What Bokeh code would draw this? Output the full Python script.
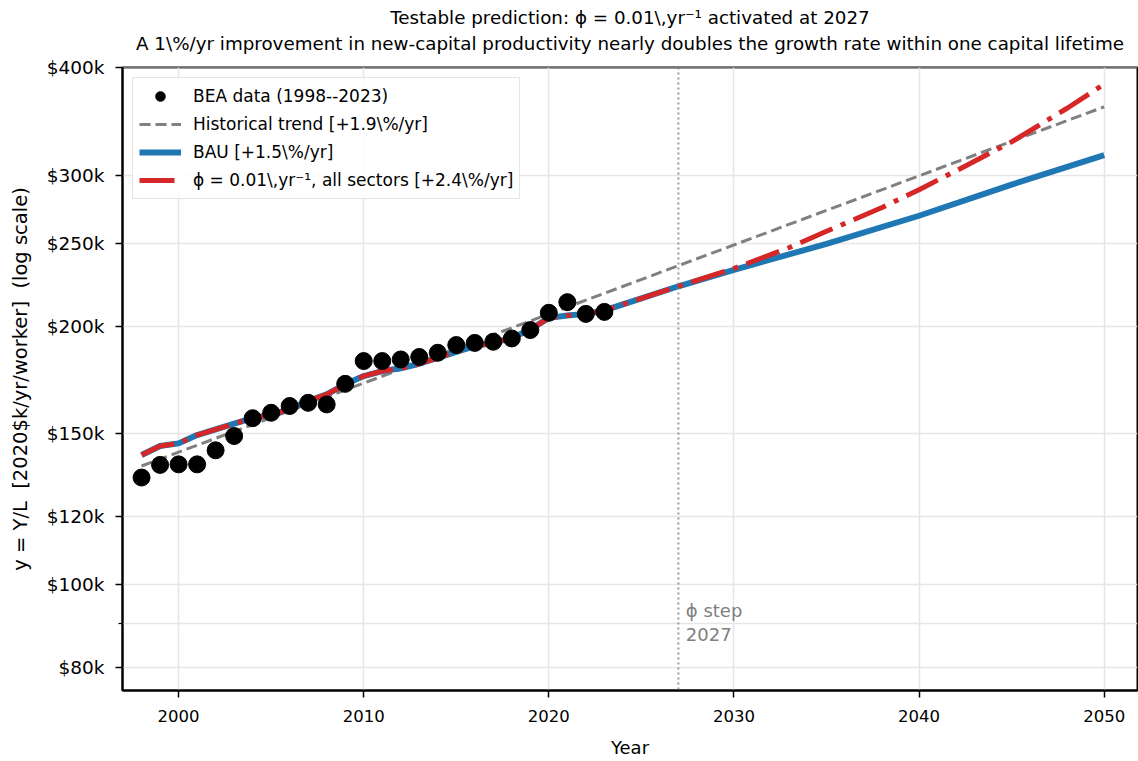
from bokeh.plotting import figure
from bokeh.models import (Range1d, FixedTicker, CustomJSTickFormatter, Legend, LegendItem,
                          Span, Label, Title)
from bokeh.embed import file_html
from bokeh.resources import INLINE

# ---------------- data (values in $k per worker, 2020 dollars) ----------------
bea_years = list(range(1998, 2024))
bea_vals = [133.2, 137.8, 138.0, 138.0, 143.3, 148.9, 156.2, 158.5, 161.4, 162.8,
            162.1, 171.3, 182.1, 182.1, 182.9, 184.1, 186.2, 190.1, 191.2, 191.8,
            193.5, 197.9, 207.3, 213.3, 206.7, 207.8]

trend_years = [1998, 2050]
trend_vals = [137.4, 360.4]

bau_years = list(range(1998, 2024)) + [2025, 2027, 2030, 2035, 2040, 2045, 2050]
bau_vals = [141.5, 145.0, 146.0, 149.3, 151.6, 153.9, 156.2, 157.8, 160.0, 163.6,
            166.5, 171.1, 174.9, 177.3, 178.6, 180.8, 183.7, 186.7, 189.6, 191.2,
            193.8, 198.2, 204.5, 205.8, 206.7, 208.6, 215.5, 222.6,
            232.6, 249.5, 269.0, 292.5, 316.5]

phi_years = list(range(1998, 2024)) + [2025, 2027, 2030, 2033, 2035, 2038, 2040,
                                       2042, 2045, 2048, 2050]
phi_vals = bau_vals[:28] + [233.5, 247.0, 258.0, 275.0, 288.5, 303.5, 328.0, 359.0, 383.0]

step_year = 2027
y_ticks = [80, 100, 120, 150, 200, 250, 300, 400]
y_minor = [90]
x_ticks = [2000, 2010, 2020, 2030, 2040, 2050]

title_line1 = "Testable prediction: \u03d5 = 0.01\\,yr\u207b\u00b9 activated at 2027"
title_line2 = "A 1\\%/yr improvement in new-capital productivity nearly doubles the growth rate within one capital lifetime"

FONT = "DejaVu Sans"
BLUE = "#1f77b4"
RED = "#d62728"

p = figure(width=1138, height=761, y_axis_type="log",
           x_range=Range1d(1996.97, 2051.8), y_range=Range1d(75.2, 400.5),
           output_backend="svg", toolbar_location=None,
           min_border_left=122, min_border_right=1, min_border_top=67,
           min_border_bottom=71, title=None)

# titles (first added = closest to the frame)
t2 = Title(text=title_line2, align="center", text_font=FONT, text_font_size="18.3px",
           text_font_style="normal", text_color="black", standoff=28)
t1 = Title(text=title_line1, align="center", text_font=FONT, text_font_size="18.3px",
           text_font_style="normal", text_color="black", standoff=-22)
p.add_layout(t2, "above")
p.add_layout(t1, "above")

# frame & grid
p.outline_line_color = "black"
p.outline_line_width = 2
for g in (p.xgrid[0], p.ygrid[0]):
    g.grid_line_color = "#e6e6e6"
    g.grid_line_width = 1.5
p.ygrid.minor_grid_line_color = "#e6e6e6"
p.ygrid.minor_grid_line_width = 1.5
p.background_fill_color = "white"

# axes
p.xaxis.ticker = FixedTicker(ticks=x_ticks, minor_ticks=[])
p.yaxis.ticker = FixedTicker(ticks=y_ticks, minor_ticks=y_minor)
p.yaxis.formatter = CustomJSTickFormatter(code="return '$' + tick + 'k';")
for ax in (p.xaxis[0], p.yaxis[0]):
    ax.axis_line_color = "black"
    ax.axis_line_width = 2
    ax.major_tick_line_width = 1.5
    ax.major_tick_out = 7
    ax.major_tick_in = 0
    ax.minor_tick_line_width = 1.2
    ax.minor_tick_out = 4
    ax.minor_tick_in = 0
    ax.major_label_text_font = FONT
    ax.major_label_text_color = "black"
    ax.axis_label_text_font = FONT
    ax.axis_label_text_font_size = "18px"
    ax.axis_label_text_font_style = "normal"
    ax.axis_label_text_color = "black"
p.xaxis.major_label_text_font_size = "16.5px"
p.yaxis.major_label_text_font_size = "18.5px"
p.yaxis.axis_label_text_font_size = "19.5px"
p.xaxis.axis_label = "Year"
p.yaxis.axis_label = "y = Y/L\u00a0\u00a0[2020$k/yr/worker]\u00a0\u00a0(log scale)"
p.xaxis.major_label_standoff = 12
p.yaxis.major_label_standoff = 11
p.xaxis.axis_label_standoff = 12
p.yaxis.axis_label_standoff = 12

# series
r_trend = p.line(trend_years, trend_vals, line_color="gray", line_width=3, line_dash="11 5")
r_bau = p.line(bau_years, bau_vals, line_color=BLUE, line_width=6)
r_phi = p.line(phi_years, phi_vals, line_color=RED, line_width=5, line_dash="35 9 5 9")
r_bea = p.scatter(bea_years, bea_vals, size=17, fill_color="black", line_color="black")

p.add_layout(Span(location=step_year, dimension="height", line_color="gray",
                  line_dash="2 3", line_width=2, line_alpha=0.8))
p.add_layout(Label(x=2027.4, y=93.2, text="\u03d5 step", text_color="gray",
                   text_font=FONT, text_font_size="18px", text_baseline="middle"))
p.add_layout(Label(x=2027.4, y=87.4, text="2027", text_color="gray",
                   text_font=FONT, text_font_size="18px", text_baseline="middle"))

legend = Legend(items=[
    LegendItem(label="BEA data (1998--2023)", renderers=[r_bea]),
    LegendItem(label="Historical trend [+1.9\\%/yr]", renderers=[r_trend]),
    LegendItem(label="BAU [+1.5\\%/yr]", renderers=[r_bau]),
    LegendItem(label="\u03d5 = 0.01\\,yr\u207b\u00b9, all sectors [+2.4\\%/yr]", renderers=[r_phi]),
], location="top_left")
legend.label_text_font = FONT
legend.label_text_font_size = "17px"
legend.label_text_color = "black"
legend.glyph_width = 42
legend.glyph_height = 24
legend.spacing = 4
legend.padding = 6
legend.margin = 10
legend.label_standoff = 12
legend.border_line_color = "#cccccc"
legend.border_line_width = 1.5
legend.background_fill_alpha = 0.85
p.add_layout(legend)

open("out.html", "w").write(file_html(p, INLINE))
